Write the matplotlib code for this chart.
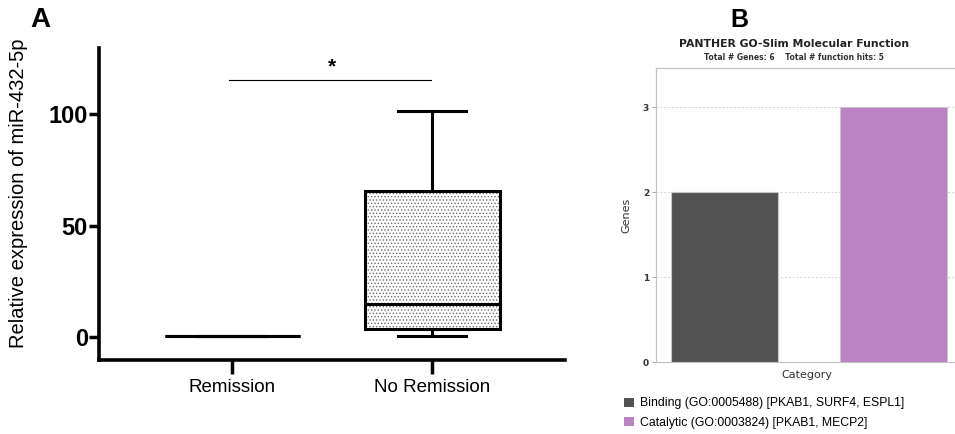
import numpy as np
import matplotlib
matplotlib.use("Agg")
import matplotlib.pyplot as plt
from matplotlib.patches import Patch, PathPatch

plt.rcParams['font.family'] = ['Liberation Sans', 'DejaVu Sans']
plt.rcParams['hatch.linewidth'] = 0.6

# A: box plot summary
groups = ['Remission', 'No Remission']
whislo = [0.6, 0.7]
q1 = [0.6, 3.6]
med = [0.6, 14.8]
q3 = [0.6, 65.6]
whishi = [0.6, 101.6]
sig_y = 115.4
yticks_a = [0, 50, 100]

# B: PANTHER bars
go_names = ['Binding (GO:0005488) [PKAB1, SURF4, ESPL1]',
            'Catalytic (GO:0003824) [PKAB1, MECP2]']
genes = [2, 3]
bar_colors = ['#525252', '#bb82c4']
yticks_b = [0, 1, 2, 3]

fig = plt.figure(figsize=(9.55, 4.34), dpi=100)

# ---------------- panel A ----------------
axA = fig.add_axes([99/955, 74/434, (565-99)/955, (360-48.3)/434])
pos = [1, 2]
stats = []
for i in range(len(groups)):
    stats.append(dict(whislo=whislo[i], q1=q1[i], med=med[i], q3=q3[i],
                      whishi=whishi[i], label=groups[i]))
bp = axA.bxp(stats, positions=pos, widths=0.675, showfliers=False,
             patch_artist=True,
             boxprops=dict(linewidth=0, edgecolor='#6a6a6a', facecolor='white'),
             medianprops=dict(linewidth=2.2, color='black', zorder=4),
             whiskerprops=dict(linewidth=2.2, color='black'),
             capprops=dict(linewidth=2.2, color='black'))
# dotted fill in grey, outline drawn separately in black
for b in bp['boxes']:
    b.set_hatch('.....')
    outline = PathPatch(b.get_path(), transform=b.get_transform(), fill=False,
                        edgecolor='black', linewidth=2.2, zorder=3.5)
    axA.add_patch(outline)

axA.set_xlim(0.335, 2.665)
axA.set_ylim(-10.2, 129.6)
axA.set_yticks(yticks_a)
axA.set_yticklabels([str(v) for v in yticks_a], fontsize=17, fontweight='bold')
axA.set_xticks(pos)
axA.set_xticklabels(groups, fontsize=13.5)
axA.tick_params(axis='y', length=7, width=2.5, pad=1)
axA.tick_params(axis='x', length=10, width=2.5, pad=4)
for s in ['top', 'right']:
    axA.spines[s].set_visible(False)
for s in ['left', 'bottom']:
    axA.spines[s].set_linewidth(2.6)
fig.text(19/955, 1 - 193.5/434, 'Relative expression of miR-432-5p', fontsize=14.5,
         rotation=90, ha='center', va='center')

axA.plot([0.985, 1.995], [sig_y, sig_y], color='black', lw=0.8)
axA.text(1.5, sig_y + 1.5, '*', ha='center', va='bottom', fontsize=15, fontweight='bold')

fig.text(30/955, 1 - 27/434, 'A', fontsize=20, fontweight='bold', ha='left', va='baseline')

# ---------------- panel B ----------------
axB = fig.add_axes([656/955, 72/434, (958-656)/955, (362-68)/434])
xb = np.arange(len(genes))
axB.bar(xb, genes, width=0.635, color=bar_colors, edgecolor='#c8c8c8', linewidth=0.8, zorder=3)
axB.set_xlim(-0.404, 1.38)
axB.set_ylim(0, 3.46)
axB.set_yticks(yticks_b)
axB.set_yticklabels([str(v) for v in yticks_b], fontsize=6.5, color='#333333',
                    fontweight='bold', family='DejaVu Sans')
axB.set_xticks([])
axB.tick_params(axis='y', length=3, width=0.6, color='#999999', pad=2)
axB.grid(axis='y', color='#d4d4d4', linestyle=(0, (2, 2)), linewidth=0.7, zorder=0)
for s in axB.spines.values():
    s.set_color('#c4c4c4')
    s.set_linewidth(0.9)
axB.set_ylabel('Genes', fontsize=8, color='#333333', family='DejaVu Sans', labelpad=8)
axB.set_xlabel('Category', fontsize=8, color='#333333', family='DejaVu Sans', labelpad=6)

fig.text(794/955, 1 - 44/434, 'PANTHER GO-Slim Molecular Function', ha='center', va='center',
         fontsize=7.8, fontweight='bold', family='DejaVu Sans', color='#222222')
fig.text(794/955, 1 - 57/434, 'Total # Genes: 6    Total # function hits: 5', ha='center',
         va='center', fontsize=5.5, fontweight='bold', family='DejaVu Sans', color='#333333')
fig.text(730/955, 1 - 27/434, 'B', fontsize=18, fontweight='bold', ha='left', va='baseline')

handles = [Patch(facecolor=c, edgecolor='none') for c in bar_colors]
fig.legend(handles, go_names, loc='upper left', bbox_to_anchor=(622/955, 1 - 395/434),
           frameon=False, fontsize=8.8, handlelength=0.8, handleheight=0.8,
           handletextpad=0.45, labelspacing=0.6, borderaxespad=0, borderpad=0.2)

fig.savefig('out.png', dpi=100)
